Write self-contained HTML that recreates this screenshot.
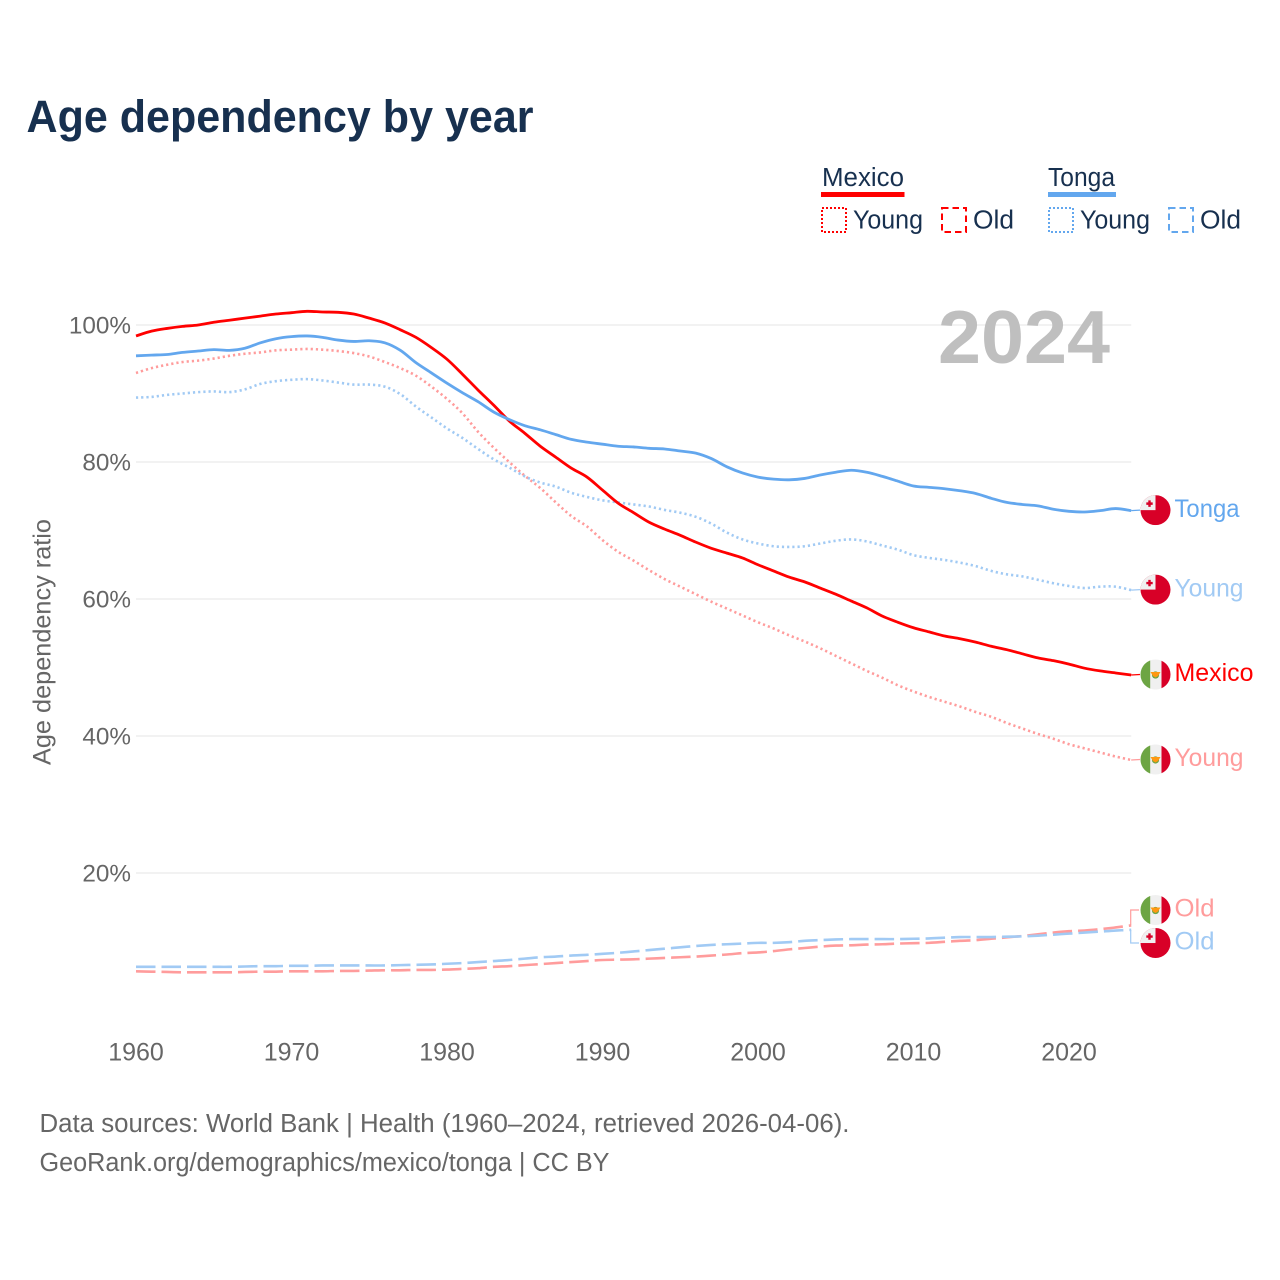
<!DOCTYPE html>
<html lang="en">
<head>
<meta charset="utf-8">
<title>Age dependency by year</title>
<style>
html,body{margin:0;padding:0;background:#fff;}
svg{display:block;font-family:"Liberation Sans",sans-serif;}
</style>
</head>
<body>
<svg id="chart" width="1280" height="1280" viewBox="0 0 1280 1280" xmlns="http://www.w3.org/2000/svg">
  <rect x="0" y="0" width="1280" height="1280" fill="#fff"/>
  <text x="26.5" y="132" font-size="45" font-weight="700" fill="#17304f" textLength="507" lengthAdjust="spacingAndGlyphs">Age dependency by year</text>

  <g>
    <text x="822" y="186" font-size="25.5" fill="#17304f" textLength="82" lengthAdjust="spacingAndGlyphs">Mexico</text>
    <rect x="821" y="192" width="83.5" height="5" fill="#ff0000"/>
    <rect x="822" y="208" width="24" height="24" fill="none" stroke="#ff0000" stroke-width="2" stroke-dasharray="2 2"/>
    <text x="853" y="228.5" font-size="25.5" fill="#17304f" textLength="70" lengthAdjust="spacingAndGlyphs">Young</text>
    <rect x="942" y="208" width="24" height="24" fill="none" stroke="#ff0000" stroke-width="2" stroke-dasharray="6.5 4"/>
    <text x="973" y="228.5" font-size="25.5" fill="#17304f" textLength="41" lengthAdjust="spacingAndGlyphs">Old</text>

    <text x="1048" y="186" font-size="25.5" fill="#17304f" textLength="67" lengthAdjust="spacingAndGlyphs">Tonga</text>
    <rect x="1048" y="192" width="68" height="5" fill="#63a7ee"/>
    <rect x="1049" y="208" width="24" height="24" fill="none" stroke="#63a7ee" stroke-width="2" stroke-dasharray="2 2"/>
    <text x="1080" y="228.5" font-size="25.5" fill="#17304f" textLength="70" lengthAdjust="spacingAndGlyphs">Young</text>
    <rect x="1169" y="208" width="24" height="24" fill="none" stroke="#63a7ee" stroke-width="2" stroke-dasharray="6.5 4"/>
    <text x="1200" y="228.5" font-size="25.5" fill="#17304f" textLength="41" lengthAdjust="spacingAndGlyphs">Old</text>
  </g>

  <g id="grid"></g>
  <text x="938" y="363" font-size="75" font-weight="700" fill="#bfbfbf" textLength="172" lengthAdjust="spacingAndGlyphs">2024</text>
  <g id="yticks"></g>
  <g id="xticks"></g>
  <text transform="translate(50.5,642) rotate(-90)" text-anchor="middle" font-size="25" fill="#666" textLength="246" lengthAdjust="spacingAndGlyphs">Age dependency ratio</text>
  <g id="series"></g>
  <g id="endlabels"></g>

  <text x="39.5" y="1132" font-size="25.5" fill="#666" textLength="810" lengthAdjust="spacingAndGlyphs">Data sources: World Bank | Health (1960–2024, retrieved 2026-04-06).</text>
  <a><text x="39.5" y="1171" font-size="25.5" fill="#666" textLength="570" lengthAdjust="spacingAndGlyphs">GeoRank.org/demographics/mexico/tonga | CC BY</text></a>
</svg>

<script>
const firstYear = 1960;
const yTickValues = [20, 40, 60, 80, 100];
const xTickValues = [1960, 1970, 1980, 1990, 2000, 2010, 2020];

const mexicoTotal = [98.4,99.1,99.5,99.8,100.0,100.4,100.7,101.0,101.3,101.6,101.8,102.0,101.9,101.85,101.6,101.0,100.3,99.3,98.2,96.7,95.0,92.8,90.5,88.3,86.0,84.2,82.3,80.7,79.1,77.8,75.9,74.0,72.6,71.2,70.2,69.3,68.3,67.4,66.7,66.0,65.0,64.1,63.2,62.5,61.6,60.7,59.7,58.7,57.5,56.6,55.8,55.2,54.6,54.2,53.7,53.1,52.6,52.0,51.4,51.0,50.5,49.9,49.5,49.2,48.9];
const tongaTotal = [95.5,95.6,95.7,96.0,96.2,96.4,96.3,96.6,97.4,98.0,98.3,98.4,98.2,97.8,97.6,97.7,97.4,96.3,94.5,93.0,91.5,90.1,88.8,87.3,86.2,85.3,84.7,84.0,83.3,82.9,82.6,82.3,82.2,82.0,81.9,81.6,81.3,80.5,79.3,78.4,77.8,77.5,77.4,77.6,78.1,78.5,78.8,78.5,77.9,77.2,76.5,76.3,76.1,75.8,75.4,74.7,74.1,73.8,73.6,73.1,72.8,72.7,72.9,73.2,72.9];
const mexicoYoung = [93.0,93.7,94.2,94.6,94.8,95.1,95.5,95.8,96.0,96.3,96.4,96.5,96.4,96.2,95.9,95.4,94.6,93.7,92.6,91.0,89.2,87.1,84.4,82.1,80.0,78.0,76.2,74.1,72.1,70.6,68.6,66.9,65.6,64.2,62.9,61.8,60.7,59.6,58.6,57.6,56.6,55.7,54.7,53.8,52.8,51.7,50.6,49.5,48.5,47.4,46.5,45.7,45.0,44.3,43.5,42.8,41.9,41.1,40.3,39.6,38.8,38.2,37.6,37.0,36.5];
const tongaYoung = [89.4,89.5,89.8,90.0,90.2,90.3,90.2,90.6,91.4,91.8,92.0,92.1,91.9,91.6,91.3,91.3,91.0,89.9,88.1,86.5,84.9,83.5,81.9,80.4,79.2,77.9,77.0,76.4,75.5,74.9,74.4,74.1,73.8,73.5,73.0,72.6,72.0,71.0,69.7,68.7,68.1,67.7,67.6,67.7,68.1,68.5,68.7,68.4,67.8,67.2,66.4,66.0,65.7,65.3,64.8,64.1,63.6,63.3,62.8,62.3,61.9,61.6,61.8,61.8,61.3];
const mexicoOld = [5.65,5.6,5.55,5.5,5.5,5.5,5.5,5.55,5.6,5.6,5.65,5.65,5.65,5.7,5.7,5.75,5.8,5.8,5.85,5.85,5.9,6.0,6.1,6.3,6.4,6.55,6.7,6.85,7.0,7.15,7.3,7.35,7.4,7.5,7.6,7.7,7.8,7.95,8.1,8.3,8.4,8.6,8.85,9.05,9.25,9.4,9.45,9.55,9.6,9.7,9.75,9.8,9.95,10.1,10.2,10.4,10.6,10.8,11.05,11.3,11.5,11.6,11.8,12.05,12.35];
const tongaOld = [6.3,6.3,6.3,6.3,6.3,6.3,6.3,6.35,6.4,6.4,6.45,6.45,6.5,6.5,6.5,6.5,6.5,6.55,6.6,6.65,6.75,6.85,7.0,7.15,7.3,7.5,7.7,7.8,7.95,8.05,8.2,8.35,8.55,8.75,8.95,9.15,9.35,9.5,9.6,9.7,9.8,9.8,9.9,10.1,10.2,10.3,10.35,10.35,10.35,10.35,10.4,10.45,10.55,10.65,10.65,10.65,10.7,10.75,10.85,11.0,11.15,11.3,11.45,11.6,11.7];

const NS = 'http://www.w3.org/2000/svg';
function xScale(year) { return 136 + (year - 1960) * 15.55; }
function yScale(pct) { return 1010 - pct * 6.85; }
function make(parent, tag, attrs, text) {
  const el = document.createElementNS(NS, tag);
  for (const k in attrs) el.setAttribute(k, attrs[k]);
  if (text !== undefined) el.textContent = text;
  parent.appendChild(el);
  return el;
}
/* Catmull-Rom smoothing through the data points */
function smoothPath(values) {
  const pts = values.map(function (v, i) { return [xScale(firstYear + i), yScale(v)]; });
  let d = 'M' + pts[0][0].toFixed(2) + ' ' + pts[0][1].toFixed(2);
  for (let i = 0; i < pts.length - 1; i++) {
    const p0 = pts[Math.max(0, i - 1)], p1 = pts[i], p2 = pts[i + 1], p3 = pts[Math.min(pts.length - 1, i + 2)];
    const c1x = p1[0] + (p2[0] - p0[0]) / 6, c1y = p1[1] + (p2[1] - p0[1]) / 6;
    const c2x = p2[0] - (p3[0] - p1[0]) / 6, c2y = p2[1] - (p3[1] - p1[1]) / 6;
    d += ' C' + c1x.toFixed(2) + ' ' + c1y.toFixed(2) + ' ' + c2x.toFixed(2) + ' ' + c2y.toFixed(2) + ' ' + p2[0].toFixed(2) + ' ' + p2[1].toFixed(2);
  }
  return d;
}

const gridG = document.getElementById('grid');
const yG = document.getElementById('yticks');
yTickValues.forEach(function (v) {
  const line = make(gridG, 'line', {x1: 136, x2: xScale(2024), y1: yScale(v), y2: yScale(v), stroke: '#f0f0f0', 'stroke-width': 1.7});
  
  
  const label = make(yG, 'text', {x: 131, y: yScale(v) + 8.5, 'text-anchor': 'end', 'font-size': 24.3, fill: '#666'}, v + '%');
  
  
});

const xG = document.getElementById('xticks');
xTickValues.forEach(function (v) {
  const label = make(xG, 'text', {x: xScale(v), y: 1060.5, 'text-anchor': 'middle', 'font-size': 25, fill: '#666'}, String(v));
  
  
});

const seriesList = [
  {id: 'mexico-old', values: mexicoOld, color: '#ff9c9c', width: 2.6, dash: '19.5 6', label: 'Old', flag: 'mx'},
  {id: 'tonga-old', values: tongaOld, color: '#a1caf4', width: 2.6, dash: '19.5 6', label: 'Old', flag: 'to'},
  {id: 'mexico-young', values: mexicoYoung, color: '#ff9c9c', width: 2.6, dash: '2.2 3', label: 'Young', flag: 'mx'},
  {id: 'tonga-young', values: tongaYoung, color: '#a1caf4', width: 2.6, dash: '2.2 3', label: 'Young', flag: 'to'},
  {id: 'mexico-total', values: mexicoTotal, color: '#ff0000', width: 2.8, dash: null, label: 'Mexico', flag: 'mx'},
  {id: 'tonga-total', values: tongaTotal, color: '#63a7ee', width: 2.8, dash: null, label: 'Tonga', flag: 'to'}
];

const seriesG = document.getElementById('series');
seriesList.forEach(function (s) {
  const attrs = {d: smoothPath(s.values), fill: 'none', stroke: s.color, 'stroke-width': s.width, 'stroke-linejoin': 'round'};
  if (s.dash) attrs['stroke-dasharray'] = s.dash;
  const path = make(seriesG, 'path', attrs);
  
  
});

/* End labels: anchored on the last value of each series, pushed apart when they collide */
const placed = seriesList.map(function (s) {
  const endY = yScale(s.values[s.values.length - 1]);
  return {s: s, endY: endY, y: endY - 0.5};
}).sort(function (a, b) { return a.endY - b.endY; });
const minGap = 33;
for (let i = 1; i < placed.length; i++) {
  if (placed[i].y - placed[i - 1].y < minGap) {
    const mid = (placed[i].y + placed[i - 1].y) / 2 - 0.6;
    placed[i - 1].y = mid - minGap / 2;
    placed[i].y = mid + minGap / 2;
  }
}

const labelsG = document.getElementById('endlabels');
const labelWidths = {Mexico: 79, Tonga: 65, Young: 69, Old: 40};
const cx = 1155.5;
const endX = xScale(2024);
placed.forEach(function (p, idx) {
  const s = p.s;
  const group = make(labelsG, 'g', {});
  
  

  const moved = Math.abs(p.y - p.endY) > 4;
  const connD = moved
    ? 'M' + (endX - 0.5) + ' ' + p.endY + ' V' + p.y + ' H1139'
    : 'M' + endX + ' ' + p.endY + ' L1140 ' + p.y;
  const conn = make(group, 'path', {d: connD, fill: 'none', stroke: s.color, 'stroke-width': 1.2});
  
  

  const flag = make(group, 'g', {transform: 'translate(' + cx + ',' + p.y + ')'});
  
  
  const clipId = 'flag-clip-' + idx;
  const clip = make(flag, 'clipPath', {id: clipId});
  make(clip, 'circle', {cx: 0, cy: 0, r: 15});
  const inner = make(flag, 'g', {'clip-path': 'url(#' + clipId + ')'});
  if (s.flag === 'mx') {
    make(inner, 'rect', {x: -15, y: -15, width: 30, height: 30, fill: '#f0f0f0'});
    make(inner, 'rect', {x: -15, y: -15, width: 9.7, height: 30, fill: '#6da544'});
    make(inner, 'rect', {x: 6, y: -15, width: 9, height: 30, fill: '#d80027'});
    make(inner, 'circle', {cx: 0, cy: 0.5, r: 3.6, fill: '#6da544'});
    make(inner, 'path', {d: 'M-5 -2.5 L5 -2.5 L2.5 1.5 L0 3 L-2.5 1.5 Z', fill: '#ff9811'});
  } else {
    make(inner, 'rect', {x: -15, y: -15, width: 30, height: 30, fill: '#d80027'});
    make(inner, 'rect', {x: -15, y: -15, width: 15, height: 15, fill: '#f0f0f0'});
    make(inner, 'path', {d: 'M-7.2 -9.7 H-4.8 V-7.7 H-2.8 V-5.3 H-4.8 V-3.3 H-7.2 V-5.3 H-9.2 V-7.7 H-7.2 Z', fill: '#d80027'});
  }

  const text = make(group, 'text', {x: 1174.5, y: p.y + 6.7, 'font-size': 25, fill: s.color, textLength: labelWidths[s.label], lengthAdjust: 'spacingAndGlyphs'}, s.label);
  
  
});
</script>
</body>
</html>
